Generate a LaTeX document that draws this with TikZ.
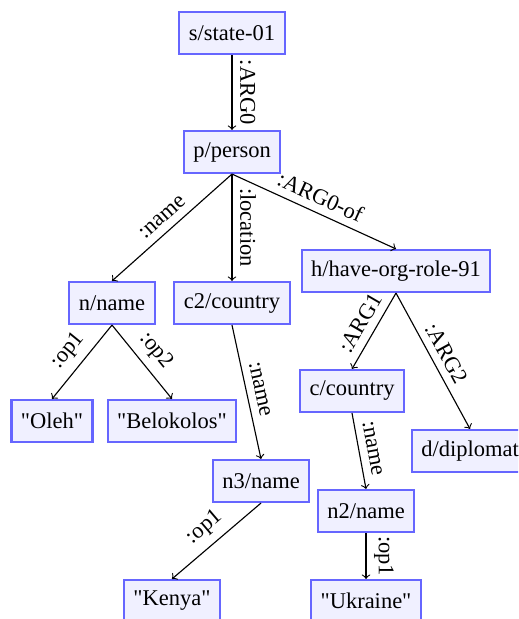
\documentclass[tikz,border=0pt]{standalone}
\usepackage{fontspec}
\setmainfont{Liberation Serif}

\tikzset{
    concept/.style={draw=blue!60, fill=blue!6, line width=0.9pt, inner xsep=4.2pt, minimum height=18.7pt},
    rel/.style={->, >=to, line width=0.5pt},
    role/.style={midway, above, sloped},
}

\begin{document}
\begin{tikzpicture}[x=0.4444pt, y=-0.4444pt]
        \clip (0, 0) rectangle (518, 619);

        \node[concept] (s) at (232, 33) {s/state-01};
        \node[concept] (p) at (232, 152) {p/person};

        \node[concept] (n) at (112, 303) {n/name};
        \node[concept] (c2) at (232, 303) {c2/country};
        \node[concept] (h) at (396, 271) {h/have-org-role-91};

        \node[concept] (x1) at (52, 421) {\textquotedbl Oleh\textquotedbl};
        \node[concept] (x2) at (172, 421) {\textquotedbl Belokolos\textquotedbl};
        \node[concept] (c) at (352, 391) {c/country};
        \node[concept] (d) at (470, 451) {d/diplomat};

        \node[concept] (n3) at (261, 481) {n3/name};
        \node[concept] (n2) at (366, 511) {n2/name};

        \node[concept] (x3) at (172, 601) {\textquotedbl Kenya\textquotedbl};
        \node[concept] (x4) at (366, 601) {\textquotedbl Ukraine\textquotedbl};

        \draw[rel] (s.south) -- (p.north) node[role] {:ARG0};
        \draw[rel] (p.south) -- (n.north) node[role] {:name};
        \draw[rel] (p.south) -- (c2.north) node[role] {:location};
        \draw[rel] (p.south) -- (h.north) node[role] {:ARG0-of};

        \draw[rel] (n.south) -- (x1.north) node[role] {:op1};
        \draw[rel] (n.south) -- (x2.north) node[role] {:op2};
        \draw[rel] (c2.south) -- (n3.north) node[role] {:name};
        \draw[rel] (h.south) -- (c.north) node[role] {:ARG1};
        \draw[rel] (h.south) -- (d.north) node[role] {:ARG2};

        \draw[rel] (c.south) -- (n2.north) node[role] {:name};
        \draw[rel] (n3.south) -- (x3.north) node[role] {:op1};
        \draw[rel] (n2.south) -- (x4.north) node[role] {:op1};
    \end{tikzpicture}
\end{document}
